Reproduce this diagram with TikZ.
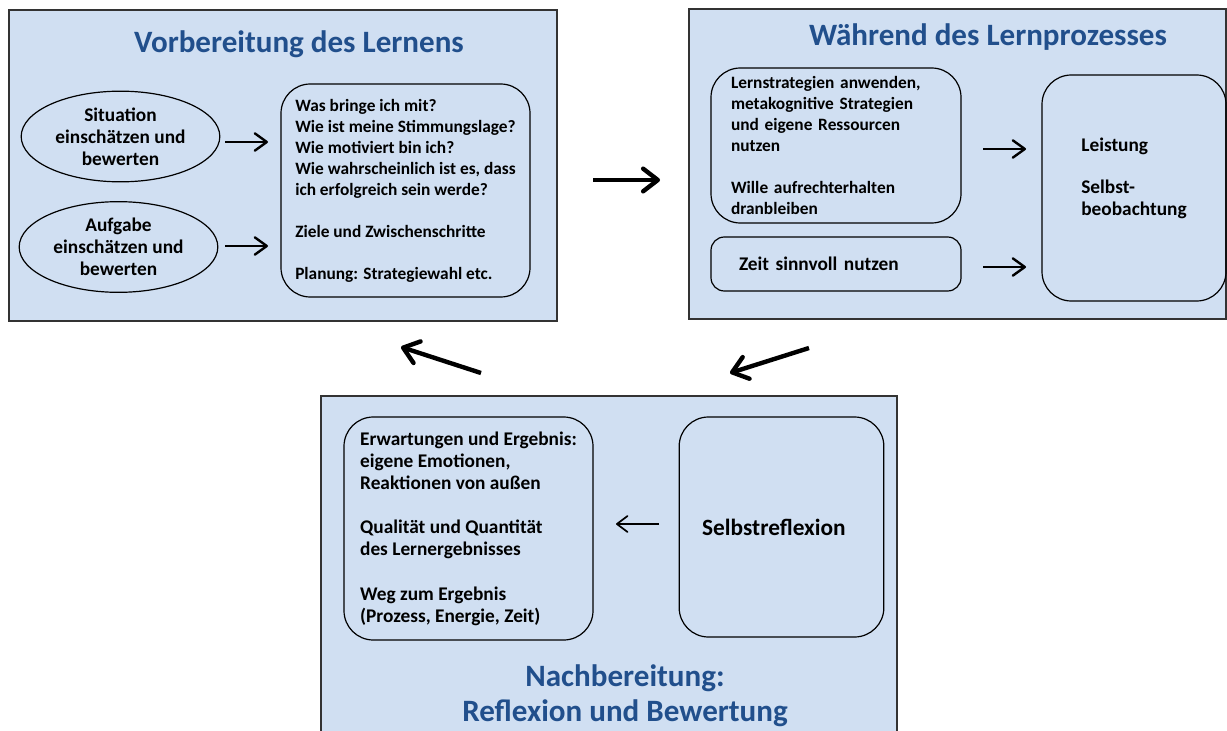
\documentclass[tikz,border=0pt]{standalone}
\usepackage{fontspec}
\setmainfont{Carlito}
\usetikzlibrary{arrows.meta,shapes.geometric}

\definecolor{panelblue}{RGB}{208,223,242}
\definecolor{titleblue}{RGB}{33,79,140}

\begin{document}
\begin{tikzpicture}[x=0.75pt,y=-0.75pt]

\tikzstyle{panel}=[draw=black!80,fill=panelblue,line width=0.8pt,inner sep=0pt]
\tikzstyle{title}=[text=titleblue,font=\bfseries\fontsize{23.3}{26.5}\selectfont,align=center]
\tikzstyle{txt}=[font=\bfseries\fontsize{13}{15.75}\selectfont,align=left]
\tikzstyle{large}=[font=\bfseries\fontsize{14.5}{16.6}\selectfont]
\tikzstyle{box}=[txt,draw,line width=0.9pt,rounded corners=22pt]
\tikzstyle{oval}=[txt,large,draw,ellipse,line width=0.9pt,align=center,inner sep=0pt,minimum width=149pt,minimum height=68pt]
\tikzstyle{big} = [draw,line width=3.3pt,-{Straight Barb[length=11pt,width=17pt,round]}]
\tikzstyle{edge} = [draw,line width=1.8pt,-{Straight Barb[length=9pt,width=13pt,round]}]
\tikzstyle{thin} = [draw,line width=1.3pt,-{Straight Barb[length=8pt,width=12pt,round]}]

\clip (0,0) rectangle (1227,731);

% panels
\node[panel,minimum width=411pt,minimum height=233.25pt] (vor) at (283,165.5) {};
\node[panel,minimum width=402.75pt,minimum height=232.5pt] (waehr) at (957.5,164) {};
\node[panel,minimum width=432pt,minimum height=273pt] (nach) at (609,578) {};

\node[title] (tvor) at (299,44) {Vorbereitung des Lernens};
\node[title] (twaehr) at (988,37) {Während des Lernprozesses};
\node[title] (tnach) at (625,696) {Nachbereitung:\\Reflexion und Bewertung};

% Vorbereitung
\node[oval] (sit) at (120.5,136.5) {Situation\\einschätzen und\\bewerten};
\node[oval] (aufg) at (118.5,247) {Aufgabe\\einschätzen und\\bewerten};
\node[box,minimum width=186.75pt,minimum height=159.75pt] (plan) at (405.5,190.5)
  {Was bringe ich mit?\\Wie ist meine Stimmungslage?\\Wie motiviert bin ich?\\
   Wie wahrscheinlich ist es, dass\\ich erfolgreich sein werde?\\[15.75pt]
   Ziele und Zwischenschritte\\[15.75pt]
   Planung: Strategiewahl etc.};

% Waehrend
\node[box,text width=157.5pt,inner xsep=15pt,minimum height=116.25pt] (strat) at (836,145.5)
  {Lernstrategien anwenden,\\metakognitive Strategien\\und eigene Ressourcen\\nutzen\\[15.75pt]
   Wille aufrechterhalten\\dranbleiben};
\node[box,large,rounded corners=10pt,text width=145.5pt,inner xsep=21pt,minimum height=40.5pt] (zeit) at (836,264)
  {Zeit sinnvoll nutzen};
\node[box,large,minimum width=138pt,minimum height=169.5pt] (leist) at (1134,188)
  {Leistung\\[15pt]Selbst-\\beobachtung\\ \mbox{}};

% Nachbereitung
\node[box,large,minimum width=186.75pt,minimum height=167.25pt] (erw) at (468.5,528.5)
  {Erwartungen und Ergebnis:\\eigene Emotionen,\\Reaktionen von außen\\[16.6pt]
   Qualität und Quantität\\des Lernergebnisses\\[16.6pt]
   Weg zum Ergebnis\\(Prozess, Energie, Zeit)};
\node[box,font=\bfseries\fontsize{17.5}{21}\selectfont,text width=119pt,inner xsep=17.25pt,minimum height=165pt] (refl) at (781.5,527)
  {Selbstreflexion};

% arrows
\coordinate (s1) at (225,142);  \coordinate (e1) at (268,142);
\coordinate (s2) at (225,246);  \coordinate (e2) at (268,246);
\coordinate (s3) at (983,149);  \coordinate (e3) at (1026,149);
\coordinate (s4) at (983,267);  \coordinate (e4) at (1026,267);
\coordinate (s5) at (593,180);  \coordinate (e5) at (660,180);
\coordinate (s6) at (809,348);  \coordinate (e6) at (730,373);
\coordinate (s7) at (481,373);  \coordinate (e7) at (401,347);
\coordinate (s8) at (659,524);  \coordinate (e8) at (616,524);

\foreach \source/\dest in {s1/e1, s2/e2, s3/e3, s4/e4}
{
  \path[edge] (\source) -- (\dest);
}
\foreach \source/\dest in {s5/e5, s6/e6, s7/e7}
{
  \path[big] (\source) -- (\dest);
}
\path[thin] (s8) -- (e8);

\end{tikzpicture}
\end{document}
